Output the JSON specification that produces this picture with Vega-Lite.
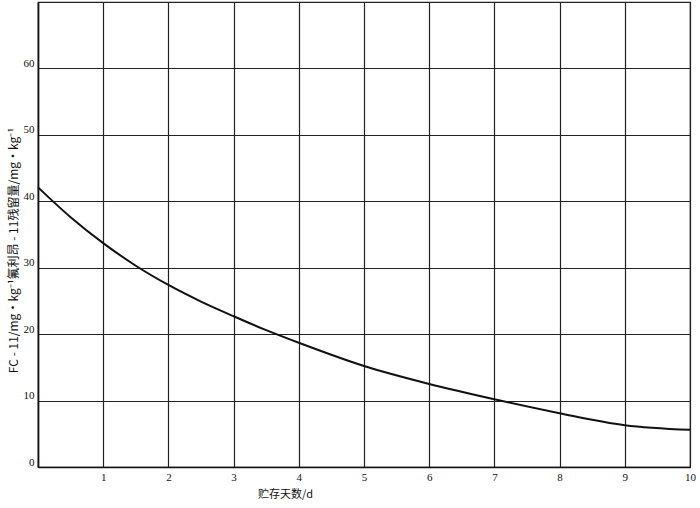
{
  "$schema": "https://vega.github.io/schema/vega-lite/v6.json",
  "width": 652,
  "height": 465,
  "autosize": {"type": "none"},
  "padding": {"left": 38, "top": 2, "right": 10, "bottom": 41},
  "background": "white",
  "config": {
    "view": {"stroke": "#222", "strokeWidth": 1.2},
    "axis": {
      "gridColor": "#222",
      "gridOpacity": 1,
      "gridWidth": 1.2,
      "domainColor": "#111",
      "domainWidth": 1.6,
      "ticks": false,
      "labelFont": "Liberation Serif",
      "labelFontSize": 11,
      "labelColor": "#111",
      "titleFont": "Noto Sans CJK SC",
      "titleFontWeight": "normal",
      "titleColor": "#111"
    }
  },
  "data": {
    "values": [
      {"d": 0, "v": 42.1},
      {"d": 0.5, "v": 37.6},
      {"d": 1, "v": 33.7},
      {"d": 1.5, "v": 30.3},
      {"d": 2, "v": 27.4},
      {"d": 2.5, "v": 24.9},
      {"d": 3, "v": 22.7},
      {"d": 3.5, "v": 20.6},
      {"d": 4, "v": 18.7},
      {"d": 5, "v": 15.2},
      {"d": 6, "v": 12.5},
      {"d": 7, "v": 10.2},
      {"d": 8, "v": 8.1},
      {"d": 9, "v": 6.3},
      {"d": 10, "v": 5.6}
    ]
  },
  "mark": {"type": "line", "color": "#111", "strokeWidth": 2, "interpolate": "monotone"},
  "encoding": {
    "x": {
      "field": "d",
      "type": "quantitative",
      "scale": {"domain": [0, 10], "nice": false},
      "axis": {
        "values": [0, 1, 2, 3, 4, 5, 6, 7, 8, 9, 10],
        "labelExpr": "datum.value == 0 ? '' : datum.label",
        "labelPadding": 4,
        "labelFlush": false,
        "title": "贮存天数/d",
        "titleFontSize": 11,
        "titleX": 247,
        "titleY": 21,
        "titleBaseline": "top"
      }
    },
    "y": {
      "field": "v",
      "type": "quantitative",
      "scale": {"domain": [0, 70], "nice": false},
      "axis": {
        "values": [0, 10, 20, 30, 40, 50, 60, 70],
        "labelExpr": "datum.value == 70 ? '' : datum.label",
        "labelPadding": 4,
        "labelBaseline": "bottom",
        "title": "FC - 11/mg·kg⁻¹氟利昂 - 11残留量/mg·kg⁻¹",
        "titleFontSize": 12,
        "titleX": -18,
        "titleY": 248
      }
    }
  }
}
